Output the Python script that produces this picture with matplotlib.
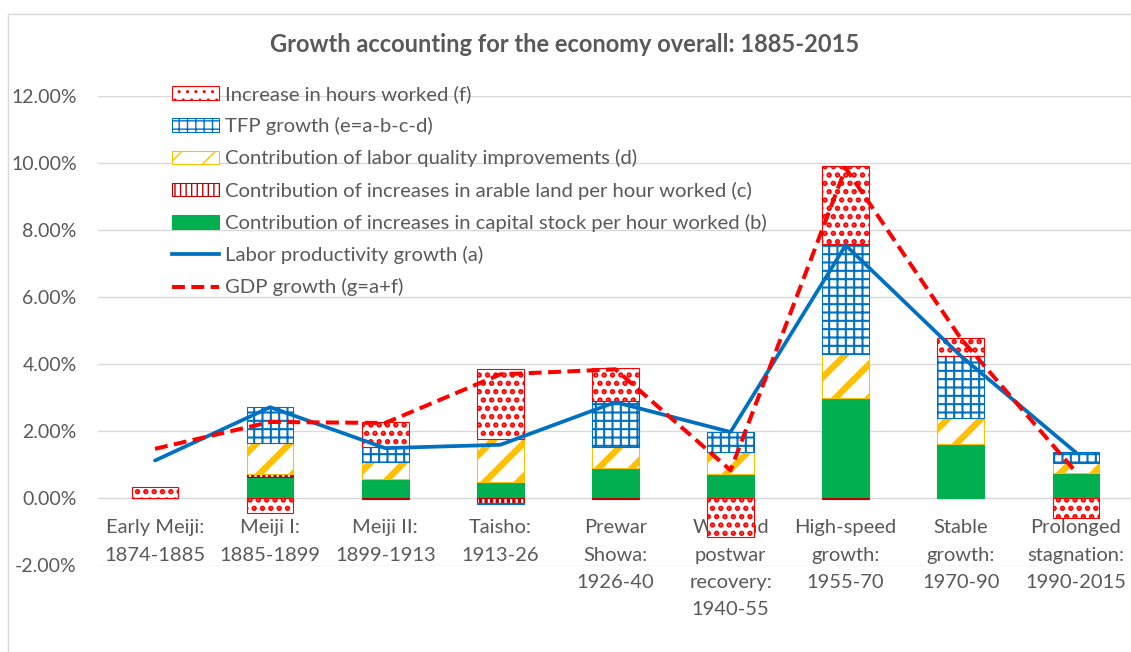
import matplotlib
matplotlib.use("Agg")
import matplotlib.pyplot as plt
import numpy as np
from matplotlib.patches import Patch, Rectangle
from matplotlib.lines import Line2D
from matplotlib.ticker import PercentFormatter

plt.rcParams['font.family'] = ['Lato', 'DejaVu Sans']
plt.rcParams['axes.unicode_minus'] = False

categories = ["Early Meiji:\n1874-1885", "Meiji I:\n1885-1899", "Meiji II:\n1899-1913",
              "Taisho:\n1913-26", "Prewar\nShowa:\n1926-40", "War and\npostwar\nrecovery:\n1940-55",
              "High-speed\ngrowth:\n1955-70", "Stable\ngrowth:\n1970-90", "Prolonged\nstagnation:\n1990-2015"]
capital_b = [0.00, 0.64, 0.57, 0.49, 0.92, 0.74, 3.00, 1.63, 0.76]
arable_c = [0.00, 0.10, -0.02, -0.13, -0.03, 0.00, -0.03, 0.00, 0.00]
quality_d = [0.00, 0.90, 0.53, 1.27, 0.60, 0.64, 1.32, 0.78, 0.31]
tfp_e = [0.00, 1.08, 0.42, -0.03, 1.38, 0.60, 3.26, 1.84, 0.30]
hours_f = [0.34, -0.44, 0.75, 2.10, 1.00, -1.16, 2.34, 0.52, -0.59]
labor_a = [1.13, 2.72, 1.50, 1.60, 2.87, 1.98, 7.55, 4.25, 1.37]
gdp_g = [1.48, 2.28, 2.25, 3.70, 3.85, 0.84, 9.85, 4.77, 0.79]

labels = ["Contribution of increases in capital stock per hour worked (b)",
          "Contribution of increases in arable land per hour worked (c)",
          "Contribution of labor quality improvements (d)",
          "TFP growth (e=a-b-c-d)",
          "Increase in hours worked (f)",
          "Labor productivity growth (a)",
          "GDP growth (g=a+f)"]

W, H = 1131, 652
fig = plt.figure(figsize=(W / 100, H / 100), dpi=100)
ax = fig.add_axes([97.5 / W, 1 - 565.5 / H, 9 * 115.1 / W, (565.5 - 96) / H])

x = np.arange(len(categories))
bw = 0.405
TXT = '#595959'

styles = [
    dict(facecolor='#00B050', edgecolor='#00B050', hatch=None, hlw=1.0),
    dict(facecolor='white', edgecolor='#C00000', hatch='|||', hlw=2.4),
    dict(facecolor='white', edgecolor='#FFC000', hatch='/', hlw=4.6),
    dict(facecolor='white', edgecolor='#0070C0', hatch='++', hlw=1.5),
    dict(facecolor='white', edgecolor='#FF0000', hatch='..', hlw=2.6),
]
series = [capital_b, arable_c, quality_d, tfp_e, hours_f]

def set_hlw(p, lw):
    if hasattr(p, 'set_hatch_linewidth'):
        p.set_hatch_linewidth(lw)

pos = np.zeros(len(x))
neg = np.zeros(len(x))
for vals, st in zip(series, styles):
    v = np.array(vals, dtype=float)
    bottom = np.where(v >= 0, pos, neg)
    bars = ax.bar(x, v, bw, bottom=bottom, facecolor=st['facecolor'], edgecolor=st['edgecolor'],
                  hatch=st['hatch'], linewidth=0.8, zorder=3)
    for p in bars:
        set_hlw(p, st['hlw'])
    pos = pos + np.where(v > 0, v, 0)
    neg = neg + np.where(v < 0, v, 0)

ax.plot(x, labor_a, color='#0070C0', lw=2.7, zorder=5, solid_capstyle='round')
ax.plot(x, gdp_g, color='#FF0000', lw=2.9, dashes=(3.2, 1.6), zorder=6)

ax.set_xlim(-0.5, 8.5)
ax.set_ylim(-2, 12)
ax.set_yticks(np.arange(-2, 12.1, 2))
ax.yaxis.set_major_formatter(PercentFormatter(decimals=2))
ax.grid(axis='y', color='#D9D9D9', lw=1.0)
ax.set_axisbelow(True)
for s in ['top', 'right', 'left']:
    ax.spines[s].set_visible(False)
ax.spines['bottom'].set_position(('data', 0))
ax.spines['bottom'].set_color('#D9D9D9')
ax.spines['bottom'].set_zorder(0.5)
ax.set_xticks(x)
ax.set_xticklabels(categories, linespacing=1.74)
ax.tick_params(axis='x', length=0, pad=15, labelsize=14.5, labelcolor=TXT)
ax.tick_params(axis='y', length=0, pad=15, labelsize=14, labelcolor=TXT)
for t in ax.get_xticklabels():
    t.set_zorder(1)

fig.text(565 / W, 1 - 45 / H, "Growth accounting for the economy overall: 1885-2015",
         ha='center', va='center', fontsize=17, fontweight='bold', color=TXT)

# legend
handles = []
for i in [4, 3, 2, 1, 0]:
    st = styles[i]
    h = Patch(facecolor=st['facecolor'], edgecolor=st['edgecolor'], hatch=st['hatch'], linewidth=0.8)
    set_hlw(h, st['hlw'])
    handles.append(h)
handles.append(Line2D([], [], color='#0070C0', lw=2.7))
handles.append(Line2D([], [], color='#FF0000', lw=2.9, dashes=(3.2, 1.6)))
leg_labels = [labels[4], labels[3], labels[2], labels[1], labels[0], labels[5], labels[6]]
leg = ax.legend(handles, leg_labels, loc='upper left', bbox_to_anchor=(172 / W, 1 - 85 / H),
                bbox_transform=fig.transFigure, frameon=False, fontsize=14.6, labelcolor=TXT,
                handlelength=2.34, handleheight=0.65, handletextpad=0.25, labelspacing=0.7,
                borderpad=0, borderaxespad=0)
leg.set_zorder(7)

fig.add_artist(Rectangle((8 / W, -0.2), 1.5, 1.2 - 14 / H, transform=fig.transFigure,
                         fill=False, edgecolor='#D9D9D9', lw=1.0))

fig.savefig('out.png', dpi=100)
